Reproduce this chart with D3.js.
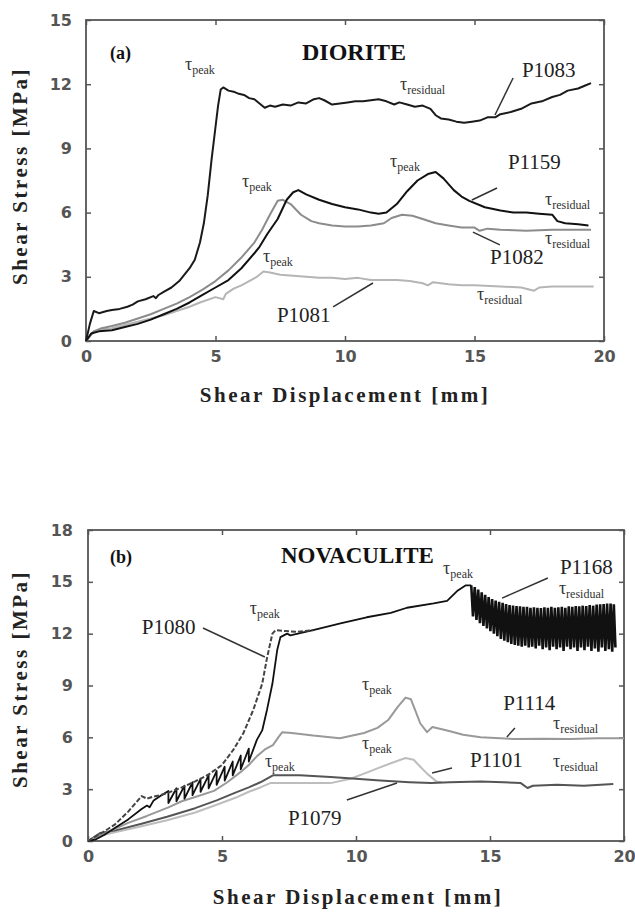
<!DOCTYPE html>
<html><head><meta charset="utf-8">
<script src="https://cdn.jsdelivr.net/npm/d3@7"></script>
<style>body{margin:0;background:#fff}</style>
</head><body><svg id="c" width="635" height="912"></svg>
<script>
// ---------- data ----------
const xTicks=[0,5,10,15,20];
const yTicksA=[0,3,6,9,12,15];
const yTicksB=[0,3,6,9,12,15,18];

// Panel (a) DIORITE
const P1083=[[0,0],[0.15,0.8],[0.3,1.4],[0.5,1.3],[0.8,1.4],[1.0,1.45],[1.3,1.5],[1.6,1.6],[1.8,1.7],[2.0,1.85],[2.3,1.95],[2.6,2.1],[2.7,2.0],[2.8,2.15],[3.0,2.3],[3.3,2.5],[3.6,2.8],[3.8,3.1],[4.0,3.4],[4.2,3.8],[4.4,4.6],[4.55,5.5],[4.7,6.8],[4.85,8.5],[5.0,10.0],[5.1,11.0],[5.2,11.75],[5.3,11.85],[5.5,11.7],[5.7,11.65],[5.9,11.55],[6.1,11.5],[6.3,11.35],[6.5,11.3],[6.7,11.1],[6.9,10.9],[7.1,11.0],[7.3,10.95],[7.6,11.05],[7.9,11.0],[8.2,11.15],[8.5,11.1],[8.8,11.3],[9.0,11.35],[9.2,11.25],[9.5,11.05],[9.8,11.1],[10.1,11.15],[10.4,11.2],[10.7,11.2],[11.0,11.25],[11.3,11.3],[11.6,11.2],[11.9,11.05],[12.1,11.15],[12.4,11.05],[12.7,10.95],[13.0,11.0],[13.3,10.85],[13.5,10.55],[13.7,10.4],[14.0,10.35],[14.3,10.25],[14.6,10.2],[14.9,10.25],[15.2,10.3],[15.5,10.45],[15.8,10.45],[16.0,10.6],[16.4,10.7],[16.8,10.85],[17.2,11.1],[17.6,11.2],[18.0,11.4],[18.3,11.5],[18.6,11.7],[19.0,11.8],[19.3,11.95],[19.5,12.05]];
const P1159=[[0,0],[0.2,0.35],[0.5,0.45],[1.0,0.5],[1.5,0.65],[2.0,0.8],[2.5,1.0],[3.0,1.25],[3.5,1.5],[4.0,1.8],[4.5,2.15],[5.0,2.5],[5.5,2.85],[6.0,3.4],[6.5,4.1],[6.7,4.4],[7.0,5.0],[7.4,5.7],[7.75,6.6],[8.0,6.95],[8.2,7.05],[8.5,6.85],[9.0,6.6],[9.5,6.4],[10.0,6.25],[10.5,6.15],[11.0,6.0],[11.3,5.95],[11.6,6.0],[12.0,6.4],[12.4,7.0],[12.8,7.5],[13.2,7.8],[13.5,7.9],[13.8,7.6],[14.2,7.05],[14.5,6.75],[14.8,6.55],[15.4,6.25],[16.0,6.1],[16.5,6.0],[17.0,6.0],[17.5,5.95],[18.0,5.9],[18.2,5.6],[18.5,5.5],[19.0,5.45],[19.4,5.4]];
const P1082=[[0,0],[0.3,0.45],[0.6,0.6],[1.0,0.7],[1.5,0.85],[2.0,1.05],[2.5,1.25],[3.0,1.5],[3.5,1.75],[4.0,2.05],[4.5,2.4],[5.0,2.8],[5.5,3.3],[6.0,3.9],[6.5,4.6],[6.8,5.2],[7.1,5.9],[7.4,6.55],[7.6,6.6],[7.9,6.4],[8.3,5.9],[8.7,5.6],[9.0,5.5],[9.5,5.4],[10.0,5.35],[10.5,5.35],[11.0,5.4],[11.5,5.5],[11.8,5.75],[12.2,5.9],[12.6,5.85],[13.0,5.7],[13.5,5.5],[14.0,5.4],[14.5,5.3],[15.0,5.3],[15.2,5.15],[15.5,5.25],[16.0,5.2],[17.0,5.15],[18.0,5.2],[19.5,5.2]];
const P1081=[[0,0],[0.3,0.45],[0.6,0.55],[1.0,0.6],[1.5,0.75],[2.0,0.9],[2.5,1.05],[3.0,1.2],[3.5,1.4],[4.0,1.6],[4.4,1.8],[5.0,2.05],[5.3,1.95],[5.4,2.2],[5.7,2.45],[6.0,2.6],[6.3,2.8],[6.6,3.0],[6.85,3.25],[7.1,3.2],[7.5,3.1],[8.0,3.05],[8.5,3.0],[9.0,2.95],[9.5,2.95],[10.0,2.9],[10.5,2.95],[11.0,2.85],[11.5,2.85],[12.0,2.85],[12.5,2.8],[13.0,2.7],[13.2,2.6],[13.4,2.75],[14.0,2.65],[14.5,2.6],[15.0,2.6],[16.0,2.55],[16.8,2.5],[17.3,2.35],[17.5,2.5],[18.0,2.55],[19.0,2.55],[19.6,2.55]];

// Panel (b) NOVACULITE
const P1080=[[0,0],[0.5,0.45],[1.0,0.95],[1.5,1.7],[2.0,2.6],[2.2,2.45],[2.4,2.55],[2.7,2.65],[3.0,2.8],[3.5,3.1],[4.0,3.45],[4.5,3.85],[5.0,4.4],[5.42,5.27],[5.8,6.25],[6.17,7.6],[6.5,9.1],[6.68,10.6],[6.88,12.0],[7.0,12.2],[7.4,12.15],[7.8,12.1],[8.4,12.2]];
const P1168=[[0,0],[0.3,0.1],[0.6,0.35],[1.0,0.75],[1.5,1.25],[2.0,1.85],[2.2,2.05],[2.3,1.95],[2.45,2.35],[2.7,2.6],[3.0,2.9],[3.0,2.2],[3.3,3.05],[3.3,2.3],[3.6,3.2],[3.6,2.45],[3.9,3.4],[3.9,2.65],[4.2,3.6],[4.2,2.85],[4.5,3.8],[4.5,3.05],[4.8,4.05],[4.8,3.25],[5.1,4.3],[5.1,3.5],[5.4,4.6],[5.4,3.8],[5.7,4.95],[5.7,4.15],[6.0,5.35],[6.0,4.6],[6.3,5.85],[6.5,6.4],[6.68,7.6],[6.88,9.1],[7.06,11.05],[7.18,11.8],[7.43,12.0],[7.55,11.9],[8.4,12.2],[9.42,12.6],[10.4,12.95],[11.3,13.2],[11.9,13.5],[12.9,13.75],[13.4,13.9],[13.8,14.5],[14.1,14.8],[14.3,14.8]];
// P1168 stick-slip oscillation after peak: [x, high, low]
const P1168osc=[[14.30,14.80,13.00],[14.43,14.70,12.80],[14.56,14.55,12.60],[14.69,14.40,12.45],[14.82,14.25,12.30],[14.95,14.12,12.15],[15.08,14.00,12.00],[15.21,13.92,11.85],[15.34,13.85,11.70],[15.47,13.78,11.60],[15.60,13.72,11.50],[15.73,13.66,11.40],[15.86,13.62,11.35],[15.99,13.60,11.30],[16.12,13.58,11.25],[16.25,13.55,11.30],[16.38,13.56,11.20],[16.51,13.50,11.25],[16.64,13.52,11.15],[16.77,13.50,11.30],[16.90,13.48,11.10],[17.03,13.52,11.20],[17.16,13.50,11.05],[17.29,13.55,11.25],[17.42,13.50,11.10],[17.55,13.52,11.20],[17.68,13.55,11.00],[17.81,13.50,11.25],[17.94,13.58,11.10],[18.07,13.55,11.20],[18.20,13.60,11.00],[18.33,13.58,11.20],[18.46,13.62,11.05],[18.59,13.60,11.25],[18.72,13.65,11.00],[18.85,13.62,11.15],[18.98,13.68,10.95],[19.11,13.70,11.20],[19.24,13.72,11.00],[19.37,13.75,11.10],[19.50,13.75,10.95],[19.62,13.70,11.20]];
const P1114=[[0,0],[0.5,0.35],[1.0,0.7],[1.5,1.05],[2.2,1.45],[3.0,1.95],[3.5,2.3],[4.0,2.55],[4.7,2.9],[5.2,3.4],[5.7,4.0],[6.0,4.4],[6.3,4.9],[6.6,5.3],[6.9,5.55],[7.1,6.0],[7.25,6.3],[7.6,6.25],[8.4,6.1],[9.4,5.95],[10.3,6.25],[10.8,6.55],[11.2,7.0],[11.55,7.75],[11.85,8.3],[12.05,8.2],[12.2,7.6],[12.4,6.8],[12.65,6.3],[12.85,6.6],[13.4,6.4],[14.0,6.15],[14.65,6.0],[15.9,5.9],[17.0,5.92],[18.0,5.9],[19.0,5.95],[20.0,5.95]];
const P1101=[[0,0],[0.45,0.46],[1.0,0.6],[2.0,1.0],[2.95,1.4],[4.0,1.9],[4.8,2.35],[5.5,2.8],[6.0,3.1],[6.43,3.4],[6.9,3.8],[7.9,3.8],[9.05,3.7],[10.0,3.6],[10.9,3.5],[12.0,3.4],[12.8,3.35],[13.5,3.4],[14.65,3.45],[15.5,3.4],[16.15,3.35],[16.4,3.07],[16.6,3.2],[17.5,3.25],[18.5,3.2],[19.6,3.3]];
const P1079=[[0,0],[0.45,0.3],[1.0,0.5],[2.0,0.85],[2.95,1.2],[4.0,1.65],[4.8,2.1],[5.5,2.5],[6.0,2.85],[6.43,3.1],[6.8,3.35],[7.18,3.35],[8.0,3.35],[9.05,3.35],[9.8,3.6],[10.3,3.9],[10.8,4.2],[11.3,4.5],[11.85,4.8],[12.15,4.7],[12.4,4.3],[12.65,3.9],[13.0,3.45],[13.2,3.4]];

// annotations (data units)
const tauA=[[3.82,12.66,"peak"],[6.02,7.2,"peak"],[6.83,3.69,"peak"],[11.74,8.13,"peak"],[12.12,11.73,"residual"],[17.72,6.36,"residual"],[17.72,4.53,"residual"],[15.1,1.92,"residual"]];
const labA=[[16.83,12.34,"P1083"],[16.29,8.04,"P1159"],[15.6,3.6,"P1082"],[7.37,0.89,"P1081"]];
const leadA=[[16.49,12.29,15.79,10.56],[15.87,7.15,14.9,6.59],[15.98,4.49,14.94,5.09],[9.54,1.59,11.08,2.71]];
const tauB=[[6.04,13.14,"peak"],[6.6,4.28,"peak"],[13.25,15.45,"peak"],[17.57,14.29,"residual"],[10.22,8.74,"peak"],[10.22,5.32,"peak"],[17.35,6.48,"residual"],[17.35,4.28,"residual"]];
const labB=[[2.01,11.98,"P1080"],[17.61,15.45,"P1168"],[15.49,7.58,"P1114"],[14.25,4.28,"P1101"],[7.46,0.93,"P1079"]];
const leadB=[[4.29,12.33,6.6,10.65],[17.16,15.22,15.45,14.06],[15.93,6.54,15.63,6.02],[13.58,4.22,12.84,3.94],[9.66,2.37,11.53,3.36]];

// ---------- drawing ----------
const svg=d3.select("#c");
const serif="'Liberation Serif','Times New Roman',serif";

function panel(o){
  const x=d3.scaleLinear().domain([0,20]).range([o.x0,o.x1]);
  const y=d3.scaleLinear().domain([0,o.ymax]).range([o.y0,o.y1]);
  const g=svg.append("g");
  const tickStyle=s=>{s.select(".domain").remove();
    s.selectAll("line").attr("stroke","#555").attr("stroke-width",1.5);
    s.selectAll("text").attr("font-family","'DejaVu Sans',sans-serif").attr("font-weight","bold").attr("font-size",16).attr("fill","#555");};
  g.append("g").attr("transform",`translate(0,${o.y0})`).call(d3.axisBottom(x).tickValues(xTicks).tickFormat(d3.format("d")).tickSizeInner(-5).tickSizeOuter(0).tickPadding(10)).call(tickStyle);
  g.append("g").attr("transform",`translate(0,${o.y1})`).call(d3.axisTop(x).tickValues(xTicks).tickFormat("").tickSizeInner(-5).tickSizeOuter(0)).call(tickStyle);
  g.append("g").attr("transform",`translate(${o.x0},0)`).call(d3.axisLeft(y).tickValues(o.yt).tickFormat(d3.format("d")).tickSizeInner(-5).tickSizeOuter(0).tickPadding(o.ypad)).call(tickStyle);
  g.append("g").attr("transform",`translate(${o.x1},0)`).call(d3.axisRight(y).tickValues(o.yt).tickFormat("").tickSizeInner(-5).tickSizeOuter(0)).call(tickStyle);
  g.append("rect").attr("x",o.x0).attr("y",o.y1).attr("width",o.x1-o.x0).attr("height",o.y0-o.y1)
    .attr("fill","none").attr("stroke","#555").attr("stroke-width",1.8);
  const line=d3.line().x(d=>x(d[0])).y(d=>y(d[1]));
  o.series.forEach(s=>{
    g.append("path").attr("d",line(s.data)).attr("fill","none").attr("stroke",s.color)
     .attr("stroke-width",s.w||1.8).attr("stroke-dasharray",s.dash||null).attr("stroke-linejoin","round");
  });
  g.append("text").attr("x",o.xt).attr("y",o.xty).attr("text-anchor","middle")
    .attr("font-family",serif).attr("font-weight","bold").attr("font-size",21).attr("letter-spacing",2.5)
    .attr("fill","#222").text("Shear Displacement [mm]");
  g.append("text").attr("transform",`translate(20,${o.yty}) rotate(-90)`).attr("text-anchor","middle")
    .attr("dominant-baseline","central")
    .attr("font-family",serif).attr("font-weight","bold").attr("font-size",21).attr("letter-spacing",2.5)
    .attr("fill","#222").text("Shear Stress [MPa]");
  g.append("text").attr("x",x(o.tag[0])).attr("y",y(o.tag[1])).attr("font-family",serif).attr("font-weight","bold")
    .attr("font-size",18).attr("fill","#111").text(o.tag[2]);
  g.append("text").attr("x",x(o.name[0])).attr("y",y(o.name[1])).attr("font-family",serif).attr("font-weight","bold")
    .attr("font-size",o.nameSize).attr("fill","#111").text(o.name[2]);
  o.taus.forEach(t=>{
    const tx=g.append("text").attr("x",x(t[0])).attr("y",y(t[1])).attr("font-family",serif).attr("fill","#333");
    tx.append("tspan").attr("font-size",18).text("τ");
    tx.append("tspan").attr("font-size",12).attr("dy",4).text(t[2]);
  });
  o.labs.forEach(t=>{
    g.append("text").attr("x",x(t[0])).attr("y",y(t[1])).attr("font-family",serif).attr("font-size",21)
     .attr("fill","#222").text(t[2]);
  });
  o.leads.forEach(l=>{
    g.append("line").attr("x1",x(l[0])).attr("y1",y(l[1])).attr("x2",x(l[2])).attr("y2",y(l[3]))
     .attr("stroke","#333").attr("stroke-width",1.5);
  });
  return {x,y,g};
}

panel({x0:86,x1:604,y0:341,y1:20,ymax:15,yt:yTicksA,ypad:14,xt:345,xty:402,yty:176,nameSize:24,
  tag:[0.93,13.18,"(a)"],name:[8.34,13.13,"DIORITE"],
  series:[
    {data:P1081,color:"#b5b5b5",w:2},
    {data:P1082,color:"#8c8c8c",w:2},
    {data:P1159,color:"#111",w:2},
    {data:P1083,color:"#1a1a1a",w:2}
  ],taus:tauA,labs:labA,leads:leadA});

const pb=panel({x0:88,x1:624,y0:841,y1:530,ymax:18,yt:yTicksB,ypad:15,xt:358,xty:904,yty:679,nameSize:23,
  tag:[0.82,16.09,"(b)"],name:[7.2,16.09,"NOVACULITE"],
  series:[
    {data:P1079,color:"#bdbdbd",w:2},
    {data:P1101,color:"#555",w:2},
    {data:P1114,color:"#999",w:2},
    {data:P1168,color:"#111",w:1.8},
    {data:P1080,color:"#444",w:2,dash:"5,2"}
  ],taus:tauB,labs:labB,leads:leadB});

// oscillation band of P1168
const osc=[];
P1168osc.forEach((d,i)=>{
  const nx=i<P1168osc.length-1?P1168osc[i+1][0]:d[0]+0.12;
  osc.push([d[0],d[1]]);osc.push([(d[0]+nx)/2,d[2]]);
});
pb.g.append("path").attr("d",d3.line().x(d=>pb.x(d[0])).y(d=>pb.y(d[1]))(osc))
  .attr("fill","none").attr("stroke","#111").attr("stroke-width",2.6).attr("stroke-linejoin","miter");
</script></body></html>
